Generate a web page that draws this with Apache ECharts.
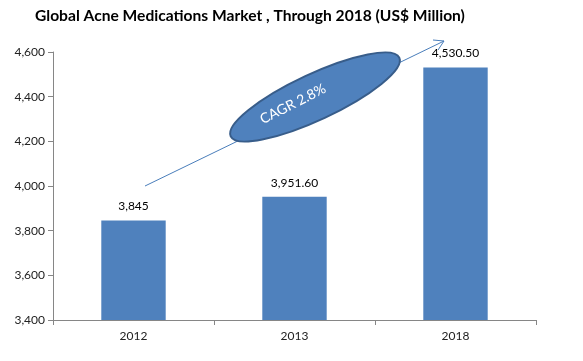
<!DOCTYPE html>
<html><head><meta charset="utf-8">
<script src="https://cdn.jsdelivr.net/npm/echarts@6/dist/echarts.min.js"></script>
<style>html,body{margin:0;padding:0;background:#fff}#c{width:583px;height:361px}</style>
</head><body><div id="c"></div>
<script>
const categories = ['2012', '2013', '2018'];
const values = [3845, 3951.60, 4530.50];
const valueLabels = ['3,845', '3,951.60', '4,530.50'];
const titleText = 'Global Acne Medications Market , Through 2018 (US$ Million)';
const cagrText = 'CAGR 2.8%';

const chart = echarts.init(document.getElementById('c'));
const font = 'Lato';
chart.setOption({
  animation: false,
  backgroundColor: '#fff',
  title: {
    text: titleText, left: 30, top: 3,
    textStyle: { fontFamily: font, fontWeight: 'bold', fontSize: 15.6, color: '#000' }
  },
  grid: { left: 53, right: 47, top: 52, bottom: 41 },
  xAxis: {
    type: 'category', data: categories,
    axisLine: { lineStyle: { color: '#868686' } },
    axisTick: { show: true, length: 5, lineStyle: { color: '#868686' } },
    axisLabel: { fontFamily: font, fontSize: 12, color: '#222', margin: 10 }
  },
  yAxis: {
    type: 'value', min: 3400, max: 4600, interval: 200,
    axisLine: { show: true, lineStyle: { color: '#868686' } },
    axisTick: { show: true, length: 5, lineStyle: { color: '#868686' } },
    splitLine: { show: false },
    axisLabel: { fontFamily: font, fontSize: 12, color: '#222', margin: 8,
      formatter: v => v.toLocaleString('en-US') }
  },
  series: [{
    type: 'bar', data: values, barWidth: '40%',
    itemStyle: { color: '#4F81BD' },
    label: { show: true, position: 'top', distance: 8, fontFamily: font, fontSize: 12, color: '#000',
      formatter: p => valueLabels[p.dataIndex] }
  }],
  graphic: [
    { type: 'line', shape: { x1: 145, y1: 186, x2: 444, y2: 41 },
      style: { stroke: '#4A7EBB', lineWidth: 1 } , z: 10},
    { type: 'polyline', shape: { points: [[433, 40], [444, 41], [438, 50]] },
      style: { stroke: '#4A7EBB', lineWidth: 1, fill: null }, z: 10 },
    { type: 'ellipse', x: 315, y: 97, rotation: 25 * Math.PI / 180,
      shape: { cx: 0, cy: 0, rx: 93, ry: 23 },
      style: { fill: '#4F81BD', stroke: '#385D8A', lineWidth: 2 }, z: 20 },
    { type: 'text', x: 293, y: 104, rotation: 27 * Math.PI / 180, z: 30,
      style: { text: cagrText, fill: '#fff', font: '14px Lato', align: 'center', verticalAlign: 'middle' } }
  ]
});
</script></body></html>
